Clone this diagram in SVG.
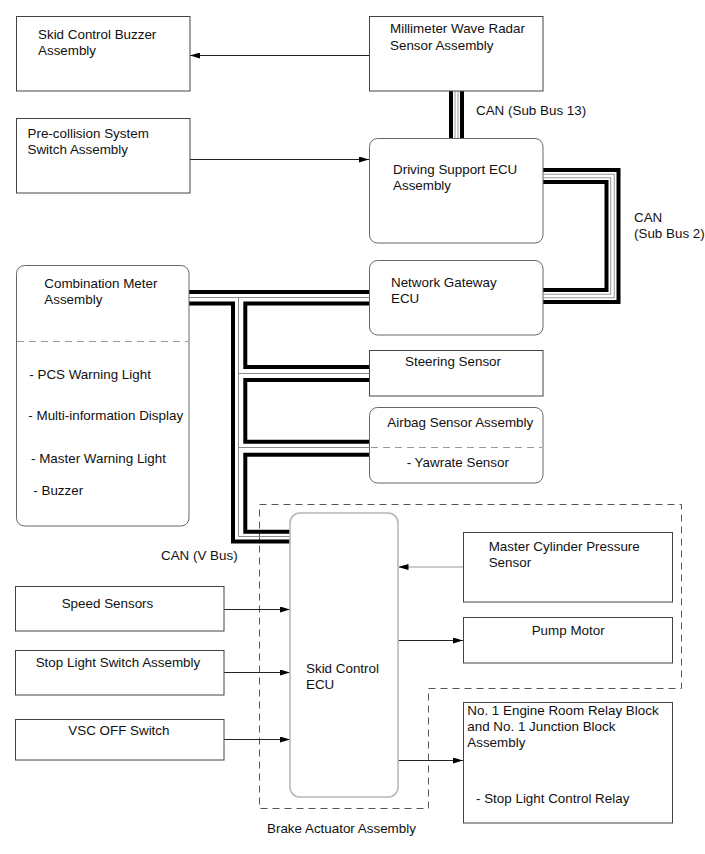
<svg xmlns="http://www.w3.org/2000/svg" width="705" height="854" viewBox="0 0 705 854">
<defs>
<marker id="ah" viewBox="0 0 10 6" refX="10" refY="3" markerWidth="10" markerHeight="6" markerUnits="userSpaceOnUse" orient="auto">
<path d="M0,0 L10,3 L0,6 z" fill="#000"/>
</marker>
</defs>
<style>
text{font-family:"Liberation Sans",Arial,sans-serif;font-size:13.4px;fill:#111}
.box{fill:#fff;stroke:#444;stroke-width:1}
.rbox{fill:#fff;stroke:#666;stroke-width:1}
.ecu{fill:#fff;stroke:#b8b8b8;stroke-width:1.6}
.sep{stroke:#999;stroke-width:1;stroke-dasharray:7,5;fill:none}
.frame{stroke:#555;stroke-width:1;stroke-dasharray:7,5;fill:none}
.arr{stroke:#222;stroke-width:1;fill:none;marker-end:url(#ah)}
.arrg{stroke:#bbb;stroke-width:1.6;fill:none;marker-end:url(#ah)}
.bk{stroke:#000;stroke-width:4;fill:none}
.gr{stroke:#888;stroke-width:1;fill:none}
.b1{stroke:#000;fill:none}
.b2{stroke:#fff;fill:none}
.b3{stroke:#999;fill:none}
</style>
<rect width="705" height="854" fill="#fff"/>

<g id="brake-actuator-frame">
<path class="frame" d="M259.5,504.5 H681.5 V688.5 H428.5 V808.5 H259.5 Z"/>
<text x="267" y="833">Brake Actuator Assembly</text>
</g>

<g id="connectors">
<!-- CAN Sub Bus 13 -->
<path class="b1" stroke-width="15" d="M456.5,91 V138"/>
<path class="b2" stroke-width="7" d="M456.5,91 V138"/>
<path class="b3" stroke-width="4" d="M456.5,91 V138"/>
<path class="b2" stroke-width="2" d="M456.5,91 V138"/>
<!-- CAN Sub Bus 2 -->
<path class="b1" stroke-width="16" d="M543,176 H612.5 V296 H543"/>
<path class="b2" stroke-width="8" d="M543,176 H612.5 V296 H543"/>
<path class="b3" stroke-width="4.5" d="M543,176 H612.5 V296 H543"/>
<path class="b2" stroke-width="2.5" d="M543,176 H612.5 V296 H543"/>
<!-- CAN V Bus -->
<path class="gr" d="M189,297.5 H370"/>
<path class="gr" d="M238.5,297.5 V536.5 H290"/>
<path class="gr" d="M238.5,373.5 H370"/>
<path class="gr" d="M238.5,447.5 H370"/>
<path class="bk" d="M189,292 H370"/>
<path class="bk" d="M189,303.5 H233 V541.5 H290"/>
<path class="bk" d="M370,303.5 H245.3 V367 H370"/>
<path class="bk" d="M370,380 H245.3 V441.7 H370"/>
<path class="bk" d="M370,454.7 H245.3 V531.7 H290"/>
<!-- arrows -->
<path class="arr" d="M369.5,55.5 H190"/>
<path class="arr" d="M190,159.5 H369"/>
<path class="arrg" d="M463,567 H398.5"/>
<path class="arr" d="M398,640.5 H463"/>
<path class="arr" d="M398,760.5 H463"/>
<path class="arr" d="M224,609.5 H290"/>
<path class="arr" d="M224,672.5 H290"/>
<path class="arr" d="M224,739.5 H290"/>
<text x="476" y="115">CAN (Sub Bus 13)</text>
<text x="634" y="221.5">CAN</text>
<text x="634" y="237.5">(Sub Bus 2)</text>
<text x="161" y="560">CAN (V Bus)</text>
</g>

<g id="skid-control-buzzer">
<rect class="box" x="16.5" y="16.5" width="173.5" height="74.5"/>
<text x="38" y="39">Skid Control Buzzer</text>
<text x="38" y="55">Assembly</text>
</g>

<g id="millimeter-wave-radar">
<rect class="box" x="369.5" y="16.5" width="173.5" height="74.5"/>
<text x="390" y="33">Millimeter Wave Radar</text>
<text x="390" y="49.5">Sensor Assembly</text>
</g>

<g id="pre-collision-switch">
<rect class="box" x="16.5" y="118.5" width="173.5" height="74.5"/>
<text x="27.5" y="138">Pre-collision System</text>
<text x="27.5" y="154">Switch Assembly</text>
</g>

<g id="driving-support-ecu">
<rect class="rbox" x="369.5" y="138.5" width="173.5" height="104.5" rx="8"/>
<text x="393" y="174">Driving Support ECU</text>
<text x="393" y="189.5">Assembly</text>
</g>

<g id="network-gateway-ecu">
<rect class="rbox" x="369.5" y="260.5" width="173.5" height="74.5" rx="8"/>
<text x="391" y="287">Network Gateway</text>
<text x="391" y="303">ECU</text>
</g>

<g id="combination-meter">
<rect class="rbox" x="16.5" y="265.5" width="172.5" height="260.5" rx="8"/>
<text x="44.3" y="288">Combination Meter</text>
<text x="44.3" y="304">Assembly</text>
<path class="sep" d="M17,341.5 H188"/>
<text x="29.3" y="379">- PCS Warning Light</text>
<text x="28.3" y="420">- Multi-information Display</text>
<text x="31" y="463">- Master Warning Light</text>
<text x="33.3" y="495">- Buzzer</text>
</g>

<g id="steering-sensor">
<rect class="box" x="369.5" y="350.5" width="173.5" height="45.5"/>
<text x="405" y="366">Steering Sensor</text>
</g>

<g id="airbag-sensor">
<rect class="rbox" x="369.5" y="407.5" width="173.5" height="75.5" rx="8"/>
<text x="387.3" y="427.3">Airbag Sensor Assembly</text>
<path class="sep" d="M371,447.5 H542"/>
<text x="406.7" y="467.3">- Yawrate Sensor</text>
</g>

<g id="skid-control-ecu">
<rect class="ecu" x="290" y="513" width="108" height="284" rx="10"/>
<text x="306" y="672.7">Skid Control</text>
<text x="306" y="688.5">ECU</text>
</g>

<g id="master-cylinder-pressure-sensor">
<rect class="box" x="463.5" y="532.5" width="209" height="69.5"/>
<text x="488.7" y="551">Master Cylinder Pressure</text>
<text x="488.7" y="567">Sensor</text>
</g>

<g id="pump-motor">
<rect class="box" x="463.5" y="617.5" width="209" height="45.5"/>
<text x="531.7" y="635">Pump Motor</text>
</g>

<g id="relay-block">
<rect class="box" x="463.5" y="702.5" width="209" height="120.5"/>
<text x="467.3" y="715">No. 1 Engine Room Relay Block</text>
<text x="467.3" y="731">and No. 1 Junction Block</text>
<text x="467.3" y="747">Assembly</text>
<text x="476" y="803">- Stop Light Control Relay</text>
</g>

<g id="speed-sensors">
<rect class="box" x="15.5" y="586.5" width="208.5" height="44.5"/>
<text x="61.7" y="608">Speed Sensors</text>
</g>

<g id="stop-light-switch">
<rect class="box" x="15.5" y="650.5" width="208.5" height="44.5"/>
<text x="35.7" y="667">Stop Light Switch Assembly</text>
</g>

<g id="vsc-off-switch">
<rect class="box" x="15.5" y="719.5" width="208.5" height="40.5"/>
<text x="68.3" y="735">VSC OFF Switch</text>
</g>
</svg>
